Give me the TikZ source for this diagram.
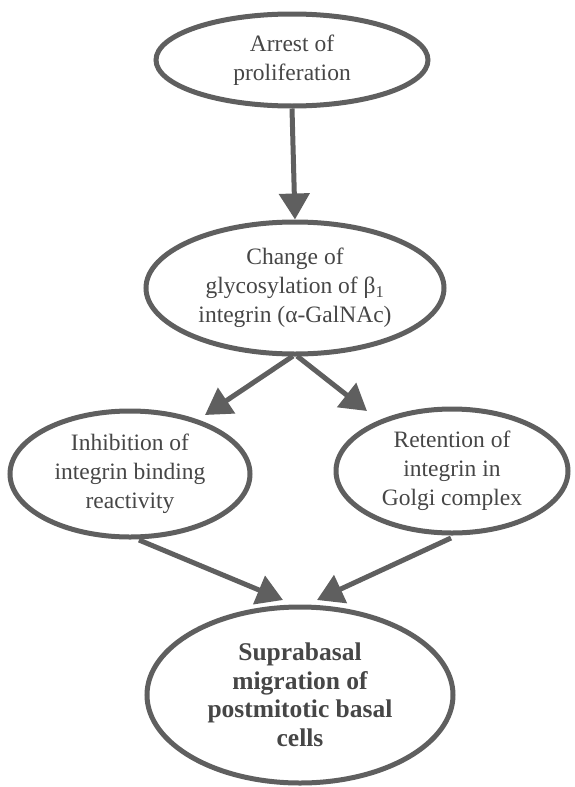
\documentclass[tikz,border=0pt]{standalone}
\usepackage{fontspec}
\setmainfont{Liberation Serif}
\usetikzlibrary{shapes.geometric,arrows.meta}
\definecolor{linegray}{RGB}{95,95,95}
\definecolor{textgray}{RGB}{70,70,70}
\tikzset{
  bubble/.style={ellipse, draw=linegray, line width=5pt, fill=white, inner sep=0pt,
    align=center, text=textgray, font=\fontsize{23.5pt}{29pt}\selectfont},
  boldbubble/.style={bubble, font=\fontsize{25.5pt}{28.5pt}\selectfont\bfseries},
  flow/.style={draw=linegray, line width=5pt, -{Triangle[length=26pt,width=30pt]}}
}
\begin{document}
\begin{tikzpicture}[x=1pt,y=-1pt]
\useasboundingbox (0,0) rectangle (575,787);
\node[bubble, minimum width=272pt, minimum height=92pt] (e1) at (292,60) {Arrest of\\proliferation};
\node[bubble, minimum width=298pt, minimum height=132pt] (e2) at (295,288) {Change of\\glycosylation of β\textsubscript{1}\\integrin (α-GalNAc)};
\node[bubble, minimum width=240pt, minimum height=126pt] (e3) at (130,474) {Inhibition of\\integrin binding\\reactivity};
\node[bubble, minimum width=232pt, minimum height=124pt] (e4) at (452,471) {Retention of\\integrin in\\Golgi complex};
\node[boldbubble, minimum width=306pt, minimum height=176pt] (e5) at (300,695) {Suprabasal\\migration of\\postmitotic basal\\cells};
\coordinate (s2l) at (293,356);
\coordinate (s2r) at (297,356);
\coordinate (t3) at (205,415);
\coordinate (t4) at (367,411);
\coordinate (s3) at (139,540);
\coordinate (s4) at (451,538);
\coordinate (t5l) at (283,600);
\coordinate (t5r) at (317,600);
\draw[flow] (e1.south) -- (e2.north);
\draw[flow] (s2l) -- (t3);
\draw[flow] (s2r) -- (t4);
\draw[flow] (s3) -- (t5l);
\draw[flow] (s4) -- (t5r);
\end{tikzpicture}
\end{document}
